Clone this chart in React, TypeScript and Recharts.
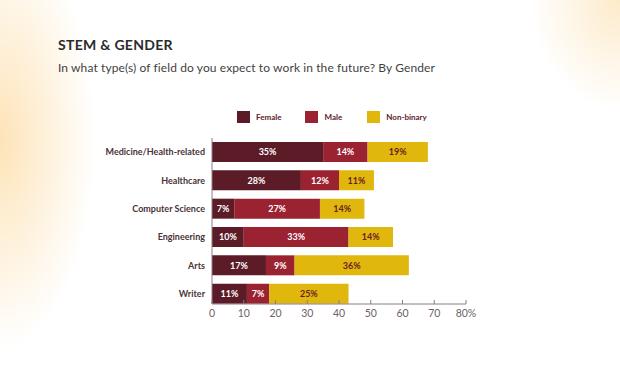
import { Bar, BarChart, LabelList, XAxis, YAxis } from "recharts";

const fields = [
  "Medicine/Health-related",
  "Healthcare",
  "Computer Science",
  "Engineering",
  "Arts",
  "Writer",
];
const female = [35, 28, 7, 10, 17, 11];
const male = [14, 12, 27, 33, 9, 7];
const nonBinary = [19, 11, 14, 14, 36, 25];
const xTicks = [0, 10, 20, 30, 40, 50, 60, 70, 80];

const series = [
  { key: "female", name: "Female", color: "#5b1b27", text: "#ffffff" },
  { key: "male", name: "Male", color: "#9b2231", text: "#ffffff" },
  { key: "nonBinary", name: "Non-binary", color: "#e0b70c", text: "#6a1c22" },
];

const data = fields.map((field, i) => ({
  field,
  female: female[i],
  male: male[i],
  nonBinary: nonBinary[i],
}));

const FONT = "Lato, 'Open Sans', sans-serif";
const AXIS = "#8c7c82";

function XTick({ x, y, payload }: any) {
  const label = payload.value === 80 ? "80%" : String(payload.value);
  return (
    <g>
      <line x1={x} x2={x} y1={y - 4} y2={y} stroke={AXIS} strokeWidth={1} />
      <text x={x} y={y + 13} textAnchor="middle" fontSize={10.5} fill="#6e5f66" fontFamily={FONT}>
        {label}
      </text>
    </g>
  );
}

function LegendBox() {
  return (
    <div style={{ position: "absolute", top: 111, left: 237, display: "flex", alignItems: "center", fontFamily: FONT }}>
      {series.map((s, i) => (
        <div key={s.key} style={{ display: "flex", alignItems: "center", marginRight: i === 0 ? 24 : 25 }}>
          <span style={{ width: 13, height: 12, background: s.color, display: "inline-block", marginRight: 6 }} />
          <span style={{ fontSize: 8, fontWeight: 700, color: "#5b1b27" }}>{s.name}</span>
        </div>
      ))}
    </div>
  );
}

export default function App() {
  return (
    <div
      style={{
        position: "absolute",
        top: 0,
        left: 0,
        width: 620,
        height: 371,
        overflow: "hidden",
        background:
          "radial-gradient(ellipse 95px 210px at 0px 140px, rgba(253,226,180,0.95), rgba(255,255,255,0) 100%), radial-gradient(ellipse 90px 110px at 620px 0px, rgba(253,232,196,0.9), rgba(255,255,255,0) 100%), #ffffff",
      }}
    >
      <div
        style={{
          position: "absolute",
          left: 58,
          top: 36,
          fontFamily: FONT,
          fontWeight: 700,
          fontSize: 14,
          color: "#2b2b2b",
          letterSpacing: 0.3,
        }}
      >
        STEM &amp; GENDER
      </div>
      <div
        style={{
          position: "absolute",
          left: 58,
          top: 60,
          fontFamily: FONT,
          fontSize: 12,
          color: "#3f3f3f",
          letterSpacing: 0.1,
        }}
      >
        In what type(s) of field do you expect to work in the future? By Gender
      </div>
      <LegendBox />
      <BarChart
        width={620}
        height={371}
        data={data}
        layout="vertical"
        margin={{ top: 138, right: 154, left: 0, bottom: 37 }}
        barCategoryGap={4}
        style={{ position: "absolute", top: 0, left: 0 }}
      >
        <XAxis
          type="number"
          domain={[0, 80]}
          ticks={xTicks}
          interval={0}
          tickSize={0}
          tickMargin={0}
          tick={<XTick />}
          axisLine={{ stroke: AXIS }}
          height={30}
        />
        <YAxis
          type="category"
          dataKey="field"
          width={212}
          tickLine={false}
          tickSize={0}
          tickMargin={7}
          axisLine={{ stroke: AXIS }}
          padding={{ top: 0, bottom: -4 }}
          tick={{ fontSize: 9, fontWeight: 700, fill: "#4a3338", fontFamily: FONT }}
        />
        {series.map((s) => (
          <Bar key={s.key} dataKey={s.key} name={s.name} stackId="g" fill={s.color} isAnimationActive={false}>
            <LabelList
              dataKey={s.key}
              position="center"
              formatter={(v: any) => `${v}%`}
              fill={s.text}
              fontSize={9}
              fontWeight={700}
              fontFamily={FONT}
            />
          </Bar>
        ))}
      </BarChart>
    </div>
  );
}
